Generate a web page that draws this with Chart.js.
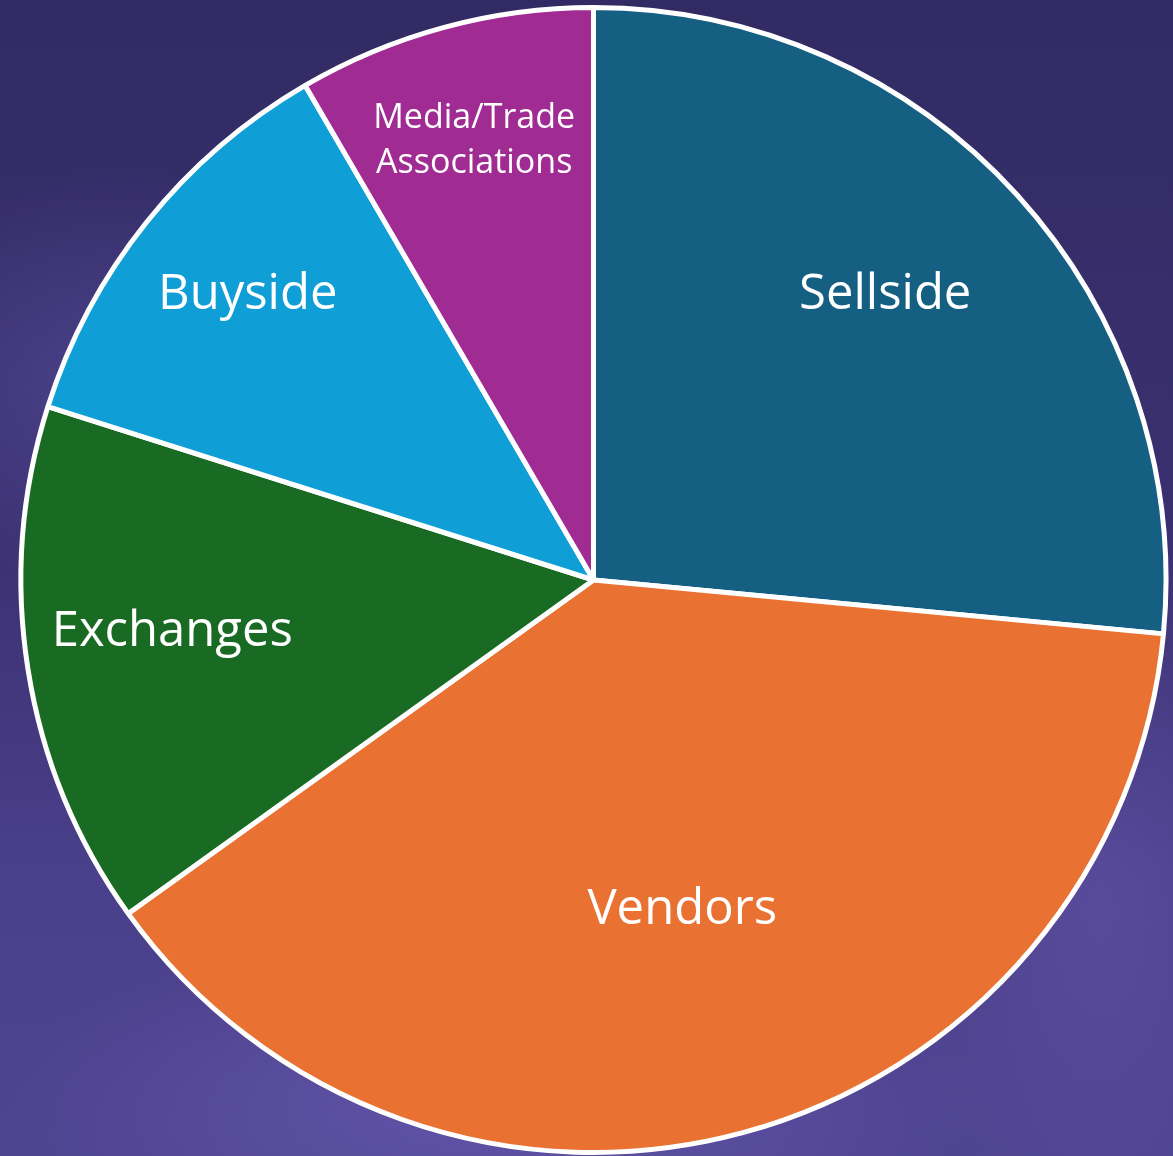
<!DOCTYPE html>
<html>
<head>
<meta charset="utf-8">
<script src="https://cdn.jsdelivr.net/npm/chart.js@4"></script>
<style>
  html, body { margin: 0; padding: 0; }
  body {
    width: 1173px; height: 1156px; overflow: hidden;
    background:
      radial-gradient(ellipse 420px 300px at 120px 380px, rgba(110,100,190,0.35), rgba(110,100,190,0) 70%),
      radial-gradient(ellipse 700px 260px at 500px 1100px, rgba(120,105,200,0.45), rgba(120,105,200,0) 70%),
      radial-gradient(ellipse 300px 500px at 1100px 900px, rgba(110,95,185,0.35), rgba(110,95,185,0) 70%),
      linear-gradient(180deg, #322b63 0%, #3a3070 45%, #4a3f8a 75%, #4f4490 100%);
  }
  #wrap { position: absolute; left: 0; top: 0; width: 1173px; height: 1156px; }
</style>
</head>
<body>
<div id="wrap"><canvas id="c" width="1173" height="1156"></canvas></div>
<script>
const categories = ["Sellside", "Vendors", "Exchanges", "Buyside", "Media/Trade Associations"];
const shares = [26.5, 38.6, 14.8, 11.7, 8.4];
const colors = ["#156082", "#E97132", "#196B24", "#0F9ED5", "#A02B93"];

const labelLines = [["Sellside"], ["Vendors"], ["Exchanges"], ["Buyside"], ["Media/Trade", "Associations"]];
const labelRadius = [0.715, 0.594, 0.741, 0.785, 0.799];
const labelAngleShift = [-2.25, 0, 2.2, 1.0, 0];
const labelSize = [49, 49, 49, 49, 34];

const insideLabels = {
  id: 'insideLabels',
  afterDatasetsDraw(chart) {
    const ctx = chart.ctx;
    const meta = chart.getDatasetMeta(0);
    meta.data.forEach((arc, i) => {
      const p = arc.getProps(['x', 'y', 'startAngle', 'endAngle', 'outerRadius'], true);
      const mid = (p.startAngle + p.endAngle) / 2 + labelAngleShift[i] * Math.PI / 180;
      const r = p.outerRadius * labelRadius[i];
      const cx = p.x + Math.cos(mid) * r;
      const cy = p.y + Math.sin(mid) * r + 2;
      const lines = labelLines[i];
      const fs = labelSize[i];
      const lh = fs * 1.32;
      ctx.save();
      ctx.fillStyle = '#ffffff';
      ctx.font = fs + 'px "Open Sans", sans-serif';
      ctx.textAlign = 'center';
      ctx.textBaseline = 'middle';
      lines.forEach((t, k) => {
        ctx.fillText(t, cx, cy + (k - (lines.length - 1) / 2) * lh);
      });
      ctx.restore();
    });
  }
};

new Chart(document.getElementById('c'), {
  type: 'pie',
  data: {
    labels: categories,
    datasets: [{
      data: shares,
      backgroundColor: colors,
      borderColor: '#ffffff',
      borderWidth: 5,
      hoverOffset: 0
    }]
  },
  options: {
    responsive: false,
    animation: false,
    layout: { padding: { left: 14, right: 0, top: 5, bottom: 1 } },
    plugins: {
      legend: { display: false },
      tooltip: { enabled: false },
      title: { display: false }
    }
  },
  plugins: [insideLabels]
});
</script>
</body>
</html>
